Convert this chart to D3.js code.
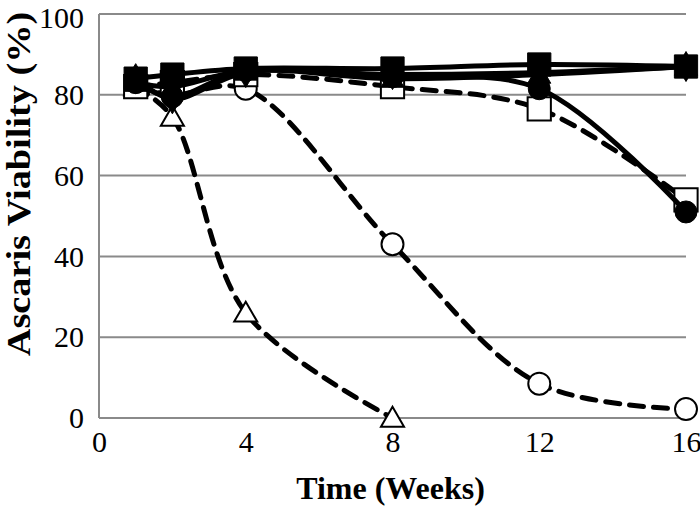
<!DOCTYPE html>
<html>
<head>
<meta charset="utf-8">
<script src="https://cdn.jsdelivr.net/npm/d3@7"></script>
<style>
  body { margin: 0; background: #fff; }
  svg { display: block; }
</style>
</head>
<body>
<div id="chart"></div>
<script>
// data
var weeks = [1, 2, 4, 8, 12, 16];
var weeksTri = [1, 2, 4, 8];

var openTri = [82, 74.5, 26, 0];
var openCirc = [82, 80, 81.5, 43, 8.5, 2.2];
var openSq = [82, 83, 85, 82, 76.5, 54];
var fillCirc = [83, 79.5, 86, 84.5, 81.5, 51];
var fillDiam = [84, 79, 85.5, 85, 85.5, 87];
var fillTri = [83, 82, 86, 84, 85, 87];
var fillSq = [84, 85, 86.5, 86.5, 87.5, 87];

var xTicks = [0, 4, 8, 12, 16];
var yTicks = [0, 20, 40, 60, 80, 100];

var width = 700, height = 507;

var svg = d3.select("#chart").append("svg")
  .attr("width", width)
  .attr("height", height);

var x = d3.scaleLinear().domain([0, 16]).range([99, 686]);
var y = d3.scaleLinear().domain([0, 100]).range([418, 14]);

// gridlines
svg.append("g")
  .selectAll("line")
  .data(yTicks)
  .enter().append("line")
  .attr("x1", x(0)).attr("x2", x(16))
  .attr("y1", d => y(d)).attr("y2", d => y(d))
  .attr("stroke", "#8a8a8a")
  .attr("stroke-width", 2);

svg.append("line")
  .attr("x1", x(0)).attr("x2", x(0))
  .attr("y1", y(0)).attr("y2", y(100))
  .attr("stroke", "#8a8a8a")
  .attr("stroke-width", 2);

// axes (labels only)
var leftAxis = d3.axisLeft(y).tickValues(yTicks).tickSize(0).tickPadding(15);
var gy = svg.append("g").attr("transform", "translate(" + x(0) + ",0)").call(leftAxis);
gy.select(".domain").remove();
gy.selectAll("text")
  .attr("font-family", "Liberation Serif")
  .attr("font-size", 30)
  .attr("fill", "#000");
gy.selectAll(".tick").filter(d => d === 100).select("text").attr("dy", "0.45em");

var bottomAxis = d3.axisBottom(x).tickValues(xTicks).tickSize(0).tickPadding(13);
var gx = svg.append("g").attr("transform", "translate(0," + y(0) + ")").call(bottomAxis);
gx.select(".domain").remove();
gx.selectAll("text")
  .attr("font-family", "Liberation Serif")
  .attr("font-size", 30)
  .attr("fill", "#000");

// titles
svg.append("text")
  .attr("x", (x(0) + x(16)) / 2 - 2)
  .attr("y", 499)
  .attr("text-anchor", "middle")
  .attr("font-family", "Liberation Serif")
  .attr("font-weight", "bold")
  .attr("font-size", 32)
  .text("Time (Weeks)");

// the y title is a bit stretched along its length in the figure
svg.append("text")
  .attr("transform", "translate(30," + 184 + ")rotate(-90)scale(1.16,1)")
  .attr("text-anchor", "middle")
  .attr("font-family", "Liberation Serif")
  .attr("font-weight", "bold")
  .attr("font-size", 33)
  .text("Ascaris Viability (%)");

var line = d3.line()
  .x(d => x(d[0]))
  .y(d => y(d[1]))
  .curve(d3.curveCatmullRom.alpha(0.5));

function pts(xs, ys) {
  return xs.map((w, i) => [w, ys[i]]);
}

var series = [
  { xs: weeksTri, ys: openTri, dash: true, shape: "tri", fill: false },
  { xs: weeks, ys: openCirc, dash: true, shape: "circ", fill: false },
  { xs: weeks, ys: openSq, dash: true, shape: "sq", fill: false },
  { xs: weeks, ys: fillTri, dash: false, shape: "tri", fill: true },
  { xs: weeks, ys: fillDiam, dash: false, shape: "diam", fill: true },
  { xs: weeks, ys: fillCirc, dash: false, shape: "circ", fill: true },
  { xs: weeks, ys: fillSq, dash: false, shape: "sq", fill: true }
];

var symbolSize = { tri: 230, circ: 380, sq: 540, diam: 260 };
var symbolType = { tri: d3.symbolTriangle, circ: d3.symbolCircle, sq: d3.symbolSquare, diam: d3.symbolDiamond };

series.forEach(function(s) {
  var g = svg.append("g");
  g.append("path")
    .datum(pts(s.xs, s.ys))
    .attr("d", line)
    .attr("fill", "none")
    .attr("stroke", "#000")
    .attr("stroke-width", 5)
    .attr("stroke-linecap", s.dash ? "round" : "butt")
    .attr("stroke-dasharray", s.dash ? "14,10" : null);

  g.selectAll("path.mk")
    .data(pts(s.xs, s.ys))
    .enter().append("path")
    .attr("class", "mk")
    .attr("transform", d => "translate(" + x(d[0]) + "," + (y(d[1]) + (s.shape === "tri" ? 2 : 0)) + ")")
    .attr("d", d3.symbol().type(symbolType[s.shape]).size(symbolSize[s.shape]))
    .attr("fill", s.fill ? "#000" : "#fff")
    .attr("stroke", "#000")
    .attr("stroke-width", s.fill ? 1 : 2);
});
</script>
</body>
</html>
